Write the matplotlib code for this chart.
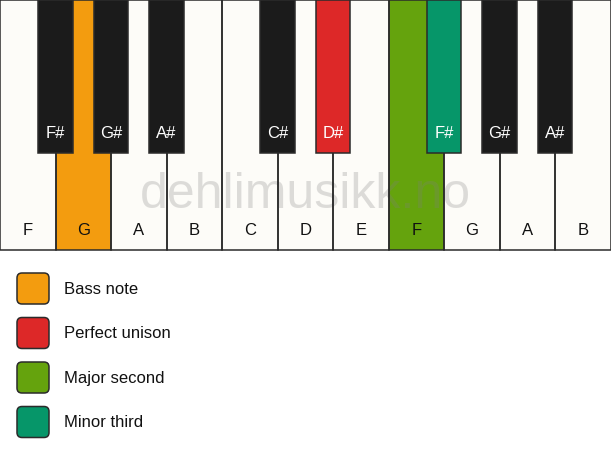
import matplotlib
matplotlib.use("Agg")
import matplotlib.pyplot as plt
from matplotlib.patches import Rectangle, FancyBboxPatch

plt.rcParams['font.family'] = ['Liberation Sans', 'DejaVu Sans']

# keyboard content
white_keys = ['F', 'G', 'A', 'B', 'C', 'D', 'E', 'F', 'G', 'A', 'B']
# black key sits on the boundary after white key index i
black_keys = [(0, 'F#'), (1, 'G#'), (2, 'A#'), (4, 'C#'), (5, 'D#'),
              (7, 'F#'), (8, 'G#'), (9, 'A#')]

# highlighted keys
white_colors = {1: '#F39C0F', 7: '#65A30D'}
black_colors = {4: '#DD2828', 5: '#069669'}   # index into black_keys

legend_labels = ['Bass note', 'Perfect unison', 'Major second', 'Minor third']
legend_colors = ['#F39C0F', '#DD2828', '#65A30D', '#069669']

W, H = 611, 461
fig = plt.figure(figsize=(W / 100, H / 100), dpi=100)
ax = fig.add_axes([0, 0, 1, 1])
ax.set_xlim(0, W)
ax.set_ylim(H, 0)
ax.axis('off')

key_w = 55.5
kb_h = 250
bk_w = 34.5
bk_h = 153
edge = '#2b2b2b'

for i, name in enumerate(white_keys):
    fc = white_colors.get(i, '#FDFCF8')
    ax.add_patch(Rectangle((i * key_w, 0), key_w, kb_h, facecolor=fc,
                           edgecolor='none', zorder=1))
    ax.add_patch(Rectangle((i * key_w, 0), key_w, kb_h, facecolor='none',
                           edgecolor=edge, linewidth=1.1, zorder=3))
    ax.text(i * key_w + key_w / 2, 230, name, ha='center', va='center',
            fontsize=12, color='#111111', zorder=3)

# watermark
ax.text(305, 208, 'dehlimusikk.no', ha='center', va='baseline', fontsize=36,
        color='#808080', alpha=0.26, zorder=2)

for j, (i, name) in enumerate(black_keys):
    fc = black_colors.get(j, '#1b1b1b')
    cx = (i + 1) * key_w
    ax.add_patch(Rectangle((cx - bk_w / 2, 0), bk_w, bk_h, facecolor=fc,
                           edgecolor=edge, linewidth=1.1, zorder=4))
    ax.text(cx, 133, name, ha='center', va='center', fontsize=12,
            color='white', zorder=5)

for k, (lab, col) in enumerate(zip(legend_labels, legend_colors)):
    y0 = 272 + k * 44.5
    ax.add_patch(FancyBboxPatch((17, y0 + 1), 32, 31,
                                boxstyle='round,pad=0,rounding_size=5',
                                facecolor=col, edgecolor=edge,
                                linewidth=1.1, zorder=2))
    ax.text(64, y0 + 17, lab, ha='left', va='center', fontsize=12,
            color='#111111')

fig.savefig('out.png', dpi=100, facecolor='white')
